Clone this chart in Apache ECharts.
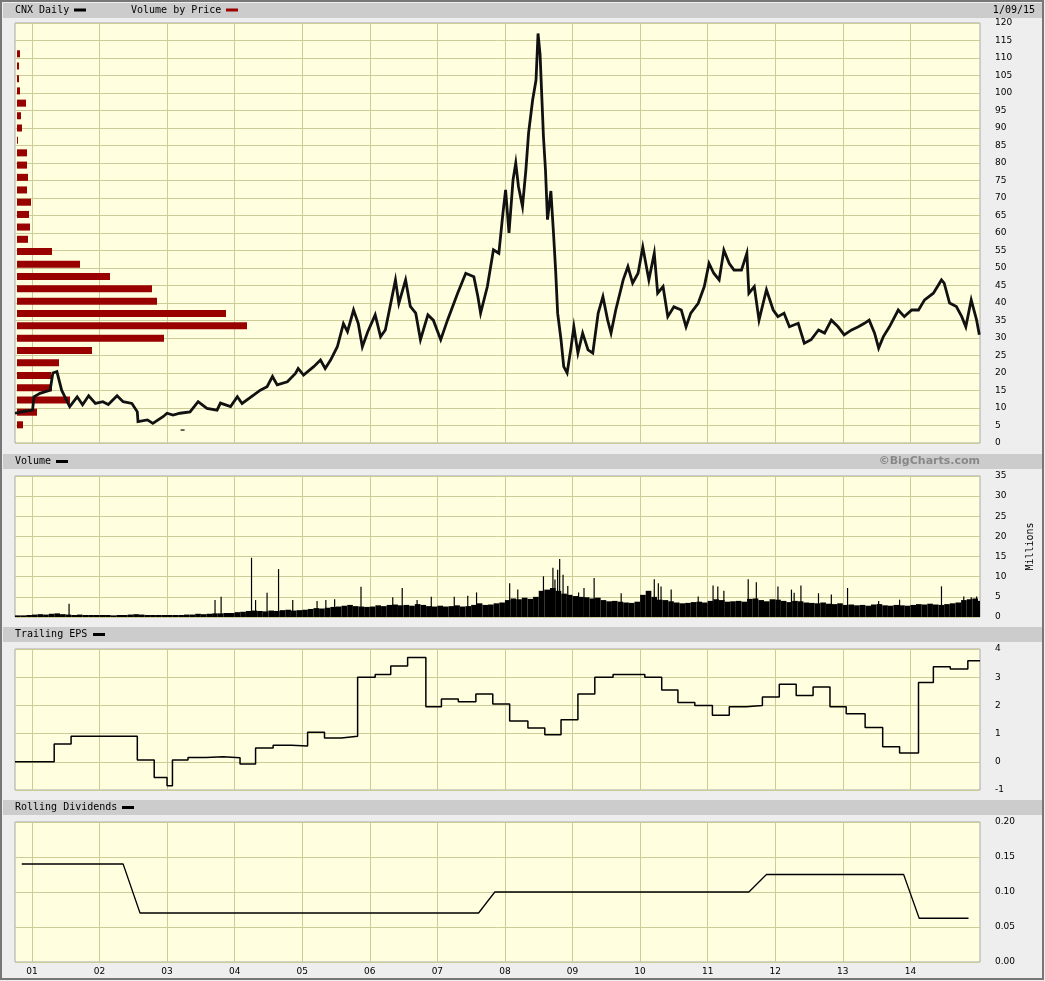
<!DOCTYPE html>
<html>
<head>
<meta charset="utf-8">
<title>CNX Daily</title>
<script src="https://cdn.jsdelivr.net/npm/echarts@6/dist/echarts.min.js"></script>
<style>
html, body { margin: 0; padding: 0; background: #eeeeee; }
#chart_container { width: 1045px; height: 981px; }
</style>
</head>
<body>
<div id="chart_container"></div>
<script>
// time is in decimal years, Oct 2000 .. 9 Jan 2015
const xMin = 2000.75;
const xMax = 2015.03;
const yearTicks = [2001, 2002, 2003, 2004, 2005, 2006, 2007, 2008, 2009, 2010, 2011, 2012, 2013, 2014];

// CNX daily price
const priceSeries = [
    [2000.75, 8.5], [2000.88, 9.0], [2001.01, 9.4], [2001.03, 13.2], [2001.12, 14.2], [2001.27, 15.1],
    [2001.31, 20.0], [2001.37, 20.4], [2001.44, 15.1], [2001.51, 12.3], [2001.56, 10.4], [2001.67, 13.2],
    [2001.75, 10.9], [2001.84, 13.5], [2001.94, 11.3], [2002.05, 11.8], [2002.13, 11.0], [2002.26, 13.5],
    [2002.35, 11.8], [2002.48, 11.3], [2002.56, 8.9], [2002.57, 6.1], [2002.71, 6.6], [2002.79, 5.6],
    [2002.94, 7.5], [2003.00, 8.5], [2003.09, 8.0], [2003.19, 8.5], [2003.34, 8.9], [2003.46, 11.8],
    [2003.59, 9.9], [2003.74, 9.4], [2003.79, 11.4], [2003.94, 10.4], [2004.04, 13.2], [2004.11, 11.3],
    [2004.28, 13.7], [2004.38, 15.1], [2004.48, 16.1], [2004.56, 19.0], [2004.63, 16.6], [2004.78, 17.5],
    [2004.90, 19.9], [2004.94, 21.3], [2005.02, 19.4], [2005.17, 21.8], [2005.27, 23.7], [2005.34, 21.3],
    [2005.42, 23.7], [2005.52, 27.5], [2005.61, 34.1], [2005.67, 31.8], [2005.76, 38.0], [2005.83, 34.1],
    [2005.89, 27.5], [2005.97, 31.8], [2006.08, 36.6], [2006.16, 30.4], [2006.23, 32.3], [2006.31, 39.9],
    [2006.38, 46.6], [2006.43, 39.9], [2006.53, 46.6], [2006.60, 39.0], [2006.68, 37.1], [2006.75, 29.5],
    [2006.86, 36.6], [2006.94, 35.1], [2007.05, 29.5], [2007.15, 35.1], [2007.30, 42.8], [2007.42, 48.5],
    [2007.54, 47.5], [2007.60, 41.8], [2007.64, 37.1], [2007.74, 44.7], [2007.83, 55.2], [2007.91, 54.2],
    [2007.97, 65.6], [2008.01, 72.3], [2008.06, 60.0], [2008.12, 75.2], [2008.16, 80.0], [2008.20, 73.3],
    [2008.26, 67.6], [2008.31, 78.0], [2008.35, 88.6], [2008.41, 98.0], [2008.46, 103.7], [2008.49, 117.0],
    [2008.52, 111.0], [2008.55, 97.0], [2008.57, 87.5], [2008.60, 78.0], [2008.63, 63.8], [2008.68, 72.0],
    [2008.72, 59.5], [2008.75, 49.4], [2008.78, 37.1], [2008.83, 29.5], [2008.87, 21.8], [2008.92, 20.0],
    [2008.98, 27.5], [2009.02, 33.2], [2009.08, 25.7], [2009.15, 31.4], [2009.23, 26.6], [2009.30, 25.7],
    [2009.38, 37.1], [2009.45, 41.8], [2009.52, 35.1], [2009.57, 31.4], [2009.64, 38.0], [2009.75, 46.6],
    [2009.82, 50.4], [2009.89, 45.7], [2009.97, 48.5], [2010.04, 56.0], [2010.13, 46.6], [2010.21, 54.2],
    [2010.26, 42.8], [2010.34, 44.7], [2010.41, 36.1], [2010.50, 38.9], [2010.61, 38.0], [2010.68, 33.2],
    [2010.75, 37.1], [2010.86, 39.9], [2010.95, 44.7], [2011.02, 51.3], [2011.09, 48.5], [2011.17, 46.6],
    [2011.24, 55.1], [2011.32, 51.3], [2011.39, 49.4], [2011.50, 49.4], [2011.58, 54.2], [2011.61, 42.8],
    [2011.69, 44.7], [2011.76, 35.1], [2011.87, 43.8], [2011.97, 38.0], [2012.04, 36.1], [2012.13, 37.1],
    [2012.21, 33.2], [2012.34, 34.2], [2012.43, 28.5], [2012.53, 29.5], [2012.64, 32.3], [2012.73, 31.4],
    [2012.83, 35.1], [2012.93, 33.2], [2013.02, 30.9], [2013.13, 32.3], [2013.23, 33.2], [2013.32, 34.2],
    [2013.39, 35.1], [2013.47, 31.4], [2013.53, 27.1], [2013.60, 30.4], [2013.69, 33.2], [2013.82, 38.0],
    [2013.91, 36.1], [2014.02, 38.0], [2014.12, 38.0], [2014.21, 40.9], [2014.34, 42.8], [2014.46, 46.6],
    [2014.50, 45.7], [2014.58, 40.0], [2014.68, 39.0], [2014.76, 36.1], [2014.82, 33.2], [2014.90, 40.9],
    [2014.98, 35.1], [2015.02, 30.9]
];
const priceOutliers = [[2003.23, 3.7]];

// volume by price: bin centre (price) and relative volume
const vbpPrices = [5.2, 8.8, 12.3, 15.8, 19.3, 22.9, 26.4, 29.9, 33.5, 37.0, 40.5, 44.1, 47.6, 51.1, 54.7, 58.2,
    61.7, 65.3, 68.8, 72.3, 75.9, 79.4, 82.9, 86.5, 90.0, 93.5, 97.1, 100.6, 104.1, 107.7, 111.2];
const vbpVolume = [6, 20, 53, 35, 34, 42, 75, 147, 230, 209, 140, 135, 93, 63, 35, 11,
    13, 12, 14, 10, 11, 10, 10, 1, 5, 4, 9, 3, 2, 2, 3];
const vbpBin = 3.53;

// typical daily volume per month (millions), from Oct 2000
const volumeMonthly = [
    0.4, 0.4, 0.5,
    0.6, 0.7, 0.6, 0.8, 0.9, 0.7, 0.6, 0.5, 0.6, 0.5, 0.5, 0.5,
    0.5, 0.5, 0.4, 0.5, 0.5, 0.6, 0.7, 0.6, 0.5, 0.5, 0.5, 0.5,
    0.5, 0.5, 0.5, 0.6, 0.6, 0.8, 0.7, 0.8, 0.9, 0.9, 1.0, 1.0,
    1.2, 1.3, 1.5, 1.6, 1.5, 1.4, 1.6, 1.5, 1.7, 1.8, 1.6, 1.7,
    1.8, 2.0, 2.2, 2.1, 2.3, 2.5, 2.6, 2.8, 3.0, 2.7, 2.6, 2.5,
    2.6, 2.9, 2.7, 3.0, 3.1, 2.9, 3.0, 2.8, 3.2, 3.0, 2.7, 2.6,
    2.8, 2.6, 2.7, 2.9, 2.6, 2.7, 3.0, 3.4, 3.0, 3.1, 3.4, 3.6,
    4.2, 4.6, 4.4, 4.8, 4.5, 5.0, 6.5, 6.8, 7.2, 6.5, 5.8, 5.5,
    5.2, 5.0, 4.9, 4.6, 4.8, 4.2, 3.9, 4.0, 3.8, 3.6, 3.5, 3.8,
    5.5, 6.5, 5.0, 4.3, 4.2, 3.9, 3.6, 3.4, 3.5, 3.7, 3.8, 3.6,
    4.0, 4.4, 4.2, 3.8, 3.9, 4.0, 3.8, 4.5, 4.6, 4.2, 3.9, 4.4,
    4.3, 4.0, 3.7, 4.0, 3.9, 3.6, 3.5, 3.4, 3.6, 3.3, 3.2, 3.4,
    3.0, 3.1, 2.9, 3.0, 2.8, 3.1, 3.2, 2.9, 2.8, 3.0, 2.9, 2.8,
    3.0, 3.2, 3.1, 3.3, 3.1, 3.0, 3.2, 3.4, 3.6, 4.2, 4.4, 4.6,
    4.0
];
// single heavy days (millions)
const volumeSpikes = [
    [2001.55, 3.3], [2003.71, 4.2], [2003.80, 5.0], [2004.25, 14.7], [2004.31, 4.2], [2004.48, 6.0],
    [2004.65, 11.9], [2004.86, 4.2], [2005.22, 4.0], [2005.35, 4.2], [2005.48, 4.4], [2005.87, 7.5],
    [2006.34, 4.9], [2006.48, 7.2], [2006.70, 4.2], [2006.91, 5.0], [2007.25, 5.0], [2007.45, 5.3],
    [2007.58, 6.1], [2008.07, 8.4], [2008.19, 6.8], [2008.57, 10.1], [2008.71, 12.2], [2008.74, 9.3],
    [2008.78, 11.7], [2008.81, 14.4], [2008.86, 10.5], [2008.93, 7.7], [2009.09, 6.1], [2009.17, 7.2],
    [2009.32, 9.7], [2009.72, 5.9], [2010.21, 9.4], [2010.27, 8.4], [2010.31, 7.6], [2010.46, 6.8],
    [2010.86, 5.1], [2011.08, 7.8], [2011.15, 7.6], [2011.24, 6.5], [2011.60, 9.4], [2011.72, 8.6],
    [2012.04, 7.6], [2012.24, 6.8], [2012.28, 6.0], [2012.38, 7.8], [2012.64, 5.9], [2012.83, 5.6],
    [2013.07, 7.2], [2013.53, 4.0], [2013.84, 4.3], [2014.46, 7.6], [2014.79, 5.1], [2014.90, 4.9],
    [2014.98, 5.1]
];

// trailing EPS, value starting at each date
const epsSteps = [
    [2000.75, 0.0], [2001.33, 0.63], [2001.58, 0.91], [2002.56, 0.06], [2002.81, -0.56], [2003.00, -0.85],
    [2003.08, 0.06], [2003.31, 0.15], [2003.58, 0.18], [2003.83, 0.14], [2004.08, -0.08], [2004.31, 0.49],
    [2004.57, 0.59], [2004.84, 0.56], [2005.08, 1.05], [2005.33, 0.84], [2005.58, 0.91], [2005.82, 3.0],
    [2006.08, 3.1], [2006.31, 3.4], [2006.56, 3.7], [2006.83, 1.95], [2007.06, 2.23], [2007.31, 2.13],
    [2007.57, 2.4], [2007.82, 2.05], [2008.07, 1.45], [2008.34, 1.2], [2008.59, 0.96], [2008.83, 1.49],
    [2009.08, 2.4], [2009.33, 3.0], [2009.60, 3.1], [2010.07, 3.0], [2010.32, 2.55], [2010.56, 2.1],
    [2010.81, 2.0], [2011.07, 1.65], [2011.32, 1.95], [2011.57, 2.0], [2011.81, 2.3], [2012.06, 2.75],
    [2012.31, 2.35], [2012.56, 2.65], [2012.81, 1.95], [2013.05, 1.7], [2013.33, 1.22], [2013.59, 0.53],
    [2013.84, 0.31], [2014.12, 2.81], [2014.34, 3.37], [2014.59, 3.29], [2014.85, 3.58], [2015.03, 3.58]
];

// rolling dividends
const dividendPoints = [
    [2000.85, 0.14], [2002.35, 0.14], [2002.60, 0.07], [2007.61, 0.07], [2007.85, 0.10],
    [2011.61, 0.10], [2011.87, 0.125], [2013.90, 0.125], [2014.13, 0.0625], [2014.86, 0.0625]
];

const monoFont = '"DejaVu Sans Mono", monospace';
const sansFont = '"DejaVu Sans", sans-serif';
const gridColor = '#cccc99';

function makeXAxis(i, showLabel) {
    return {
        type: 'value', gridIndex: i, min: xMin, max: xMax,
        axisLine: { show: false },
        axisTick: { show: false, customValues: yearTicks },
        axisLabel: {
            show: showLabel, customValues: yearTicks, margin: 5,
            fontFamily: sansFont, fontSize: 9, color: '#000',
            formatter: v => String(Math.round(v) % 100).padStart(2, '0')
        },
        splitLine: { show: true, lineStyle: { color: gridColor, width: 1 } }
    };
}
function makeYAxis(i, min, max, interval, fmt) {
    return {
        type: 'value', gridIndex: i, position: 'right', min: min, max: max, interval: interval,
        axisLine: { show: false }, axisTick: { show: false },
        axisLabel: { margin: 15, padding: [2, 0, 0, 0], fontFamily: sansFont, fontSize: 9, color: '#000', formatter: fmt },
        splitLine: { show: true, lineStyle: { color: gridColor, width: 1 } }
    };
}

function renderVbp(params, api) {
    const p = api.value(0), v = api.value(1);
    const a = api.coord([0, p]);
    const b = api.coord([v, p]);
    const h = api.size([0, vbpBin])[1] * 0.57;
    return { type: 'rect', shape: { x: a[0] + 2, y: a[1] - h / 2, width: b[0] - a[0], height: h },
        style: { fill: '#990000' } };
}
function renderVolume(params, api) {
    const t = api.value(0), v = api.value(1);
    const top = api.coord([t, v]);
    const base = api.coord([Math.min(t + 1 / 12, xMax), 0]);
    return { type: 'rect', shape: { x: top[0], y: top[1], width: base[0] - top[0], height: base[1] - top[1] },
        style: { fill: '#000' } };
}
function renderSpike(params, api) {
    const top = api.coord([api.value(0), api.value(1)]);
    const base = api.coord([api.value(0), 0]);
    return { type: 'rect', shape: { x: top[0] - 0.6, y: top[1], width: 1.2, height: base[1] - top[1] },
        style: { fill: '#000' } };
}

const volumeData = volumeMonthly.map((v, i) => [xMin + i / 12, v]);

function headerBar(y) {
    return { type: 'rect', shape: { x: 3, y: y, width: 1039, height: 15 }, style: { fill: '#cccccc' }, silent: true };
}
function headerText(x, y, text, extra) {
    return { type: 'text', x: x, y: y, silent: true,
        style: Object.assign({ text: text, font: '10px ' + monoFont, fill: '#000', verticalAlign: 'middle' }, extra || {}) };
}
function legendMark(x, y, color) {
    return { type: 'rect', shape: { x: x, y: y - 1.5, width: 12, height: 3 }, style: { fill: color }, silent: true };
}

document.addEventListener('DOMContentLoaded', function () {
    const chart = echarts.init(document.getElementById('chart_container'));
    const gridBase = { left: 15, right: 65, show: true, backgroundColor: '#ffffe0', borderColor: '#a8a8a8', borderWidth: 1 };

    const option = {
        animation: false,
        backgroundColor: '#eeeeee',
        grid: [
            Object.assign({ top: 23, height: 420 }, gridBase),
            Object.assign({ top: 476, height: 141 }, gridBase),
            Object.assign({ top: 649, height: 141 }, gridBase),
            Object.assign({ top: 822, height: 140 }, gridBase)
        ],
        xAxis: [
            makeXAxis(0, false), makeXAxis(1, false), makeXAxis(2, false), makeXAxis(3, true),
            { type: 'value', gridIndex: 0, min: 0, max: 965, show: false }
        ],
        yAxis: [
            makeYAxis(0, 0, 120, 5),
            Object.assign(makeYAxis(1, 0, 35, 5), {
                name: 'Millions', nameLocation: 'middle', nameRotate: 90, nameGap: 45,
                nameTextStyle: { fontFamily: monoFont, fontSize: 10, color: '#000' }
            }),
            makeYAxis(2, -1, 4, 1),
            makeYAxis(3, 0, 0.2, 0.05, v => v.toFixed(2))
        ],
        graphic: [
            { type: 'rect', shape: { x: 1, y: 1, width: 1042, height: 978 }, style: { fill: 'none', stroke: '#777', lineWidth: 2 }, silent: true },
            headerBar(3), headerBar(454), headerBar(627), headerBar(800),
            headerText(15, 10, 'CNX Daily'), legendMark(74, 10, '#000'),
            headerText(131, 10, 'Volume by Price'), legendMark(226, 10, '#990000'),
            headerText(1035, 10, '1/09/15', { align: 'right' }),
            headerText(15, 461.5, 'Volume'), legendMark(56, 461.5, '#000'),
            headerText(980, 461.5, '\u00a9BigCharts.com', { align: 'right', font: 'bold 11px ' + sansFont, fill: '#888' }),
            headerText(15, 634.5, 'Trailing EPS'), legendMark(93, 634.5, '#000'),
            headerText(15, 807.5, 'Rolling Dividends'), legendMark(122, 807.5, '#000')
        ],
        series: [
            { name: 'Volume by Price', type: 'custom', xAxisIndex: 4, yAxisIndex: 0, z: 2,
              renderItem: renderVbp, data: vbpPrices.map((p, i) => [p, vbpVolume[i]]) },
            { name: 'CNX Daily', type: 'line', xAxisIndex: 0, yAxisIndex: 0, z: 3,
              data: priceSeries, showSymbol: false, lineStyle: { color: '#111', width: 2.8, join: 'miter' } },
            { name: 'Bad tick', type: 'scatter', xAxisIndex: 0, yAxisIndex: 0, z: 3,
              data: priceOutliers, symbol: 'rect', symbolSize: [4, 1.5], itemStyle: { color: '#000' } },
            { name: 'Volume', type: 'custom', xAxisIndex: 1, yAxisIndex: 1,
              renderItem: renderVolume, data: volumeData },
            { name: 'Volume spikes', type: 'custom', xAxisIndex: 1, yAxisIndex: 1,
              renderItem: renderSpike, data: volumeSpikes },
            { name: 'Trailing EPS', type: 'line', xAxisIndex: 2, yAxisIndex: 2, step: 'end',
              data: epsSteps, showSymbol: false, lineStyle: { color: '#000', width: 1.5 } },
            { name: 'Rolling Dividends', type: 'line', xAxisIndex: 3, yAxisIndex: 3,
              data: dividendPoints, showSymbol: false, lineStyle: { color: '#000', width: 1.3 } }
        ]
    };
    chart.setOption(option);
});
</script>
</body>
</html>
